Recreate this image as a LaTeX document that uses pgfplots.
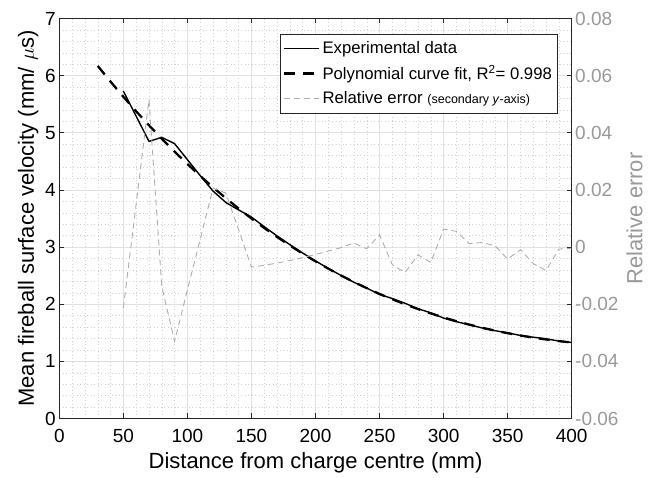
\documentclass[border=0pt]{standalone}
\usepackage{fontspec}
\setmainfont{Liberation Sans}
\usepackage{pgfplots}
\pgfplotsset{compat=1.18}

\definecolor{axisblack}{rgb}{0.15,0.15,0.15}
\definecolor{relgray}{rgb}{0.6,0.6,0.6}
\definecolor{relline}{rgb}{0.68,0.68,0.68}
\definecolor{gridmajor}{rgb}{0.88,0.88,0.88}
\definecolor{gridminor}{rgb}{0.82,0.82,0.82}

\pgfplotsset{
  base/.style={
    scale only axis, width=512.4pt, height=400pt,
    at={(0pt,0pt)}, anchor=south west,
    xmin=0, xmax=400,
    tick align=inside,
    major tick length=5pt,
    axis line style={axisblack, line width=0.8pt},
    every tick/.style={axisblack, line width=0.8pt},
    tick label style={font=\fontsize{19}{22}\selectfont},
    label style={font=\fontsize{22}{26}\selectfont},
    /pgf/number format/assume math mode=true,
  },
}

\begin{document}
\begin{tikzpicture}

% primary axis: velocity
\begin{axis}[base,
  ymin=0, ymax=7,
  xtick={0,50,...,400}, ytick={0,1,...,7},
  minor x tick num=4, minor y tick num=4,
  minor tick length=0pt,
  grid=both,
  major grid style={gridmajor, line width=0.6pt},
  minor grid style={gridminor, line width=0.45pt, dash pattern=on 0.5pt off 3pt},
  xtick pos=both, ytick pos=left,
  xticklabel style={yshift=-7pt},
  xlabel={Distance from charge centre (mm)},
  xlabel style={yshift=-3pt},
  ylabel={Mean fireball surface velocity (mm/ $\mu$s)},
]
% experimental data
\addplot[black, line width=1.4pt] coordinates {
(50,5.73) (60,5.29) (70,4.85) (80,4.92) (90,4.81) (100,4.53) (110,4.25)
(120,3.98) (130,3.78) (140,3.65) (150,3.525) (160,3.356) (170,3.195)
(180,3.042) (190,2.895) (200,2.757) (210,2.626) (220,2.502) (230,2.384)
(240,2.282) (250,2.171) (260,2.099) (270,2.015) (280,1.921) (290,1.849)
(300,1.757) (310,1.694) (320,1.641) (330,1.585) (340,1.537) (350,1.499)
(360,1.453) (370,1.423) (380,1.394) (390,1.355) (400,1.331)
};
% polynomial fit
\addplot[black, line width=2.3pt, dash pattern=on 11pt off 8pt] coordinates {
(30,6.170) (40,5.895) (50,5.631) (60,5.376) (70,5.131) (80,4.896) (90,4.670)
(100,4.453) (110,4.245) (120,4.046) (130,3.856) (140,3.674) (150,3.500)
(160,3.334) (170,3.177) (180,3.027) (190,2.885) (200,2.750) (210,2.622)
(220,2.502) (230,2.388) (240,2.281) (250,2.180) (260,2.086) (270,1.998)
(280,1.915) (290,1.839) (300,1.768) (310,1.703) (320,1.643) (330,1.588)
(340,1.538) (350,1.493) (360,1.452) (370,1.415) (380,1.383) (390,1.354)
(400,1.330)
};
\end{axis}

% secondary axis: relative error
\begin{axis}[base,
  ymin=-0.06, ymax=0.08,
  axis x line=none,
  axis y line*=right,
  scaled y ticks=false,
  ytick={-0.06,-0.04,-0.02,0,0.02,0.04,0.06,0.08},
  yticklabels={-0.06,-0.04,-0.02,0,0.02,0.04,0.06,0.08},
  yticklabel style={relgray},
  ylabel={Relative error},
  ylabel style={relgray},
  ylabel shift=1pt,
  legend cell align=left,
  legend style={at={(0.9717,0.9625)}, anchor=north east,
    draw=axisblack, line width=0.7pt, fill=white,
    font=\fontsize{16.7}{20}\selectfont,
    inner xsep=3pt, inner ysep=6pt, row sep=6pt},
  legend image code/.code={\draw[#1] (0pt,0pt) -- (35pt,0pt);},
]
\addlegendimage{black, line width=1.4pt}
\addlegendentry{Experimental data}
\addlegendimage{black, line width=2.3pt, dash pattern=on 11pt off 8pt}
\addlegendentry{Polynomial curve fit, R\textsuperscript{2}= 0.998}
\addplot[relline, line width=0.9pt, dash pattern=on 6pt off 4pt] coordinates {
(50,-0.0213) (60,0.0150) (70,0.0516) (80,-0.0138) (90,-0.0330) (100,-0.0150)
(110,0.0027) (120,0.0206) (130,0.0189) (140,0.0060) (150,-0.0070)
(160,-0.0064) (170,-0.0056) (180,-0.0047) (190,-0.0037) (200,-0.0026)
(210,-0.0014) (220,-0.0002) (230,0.0014) (240,-0.0006) (250,0.0043)
(260,-0.0062) (270,-0.0089) (280,-0.0027) (290,-0.0054) (300,0.0063)
(310,0.0055) (320,0.0012) (330,0.0016) (340,0.0005) (350,-0.0042)
(360,-0.0009) (370,-0.0058) (380,-0.0082) (390,-0.0007) (400,-0.0004)
};
\addlegendentry{Relative error {\fontsize{12.5}{15}\selectfont(secondary \textit{y}-axis)}}
\end{axis}

\pgfresetboundingbox
\path[use as bounding box] (-59.3pt,-59.5pt) rectangle (590.7pt,418.5pt);
\end{tikzpicture}
\end{document}
